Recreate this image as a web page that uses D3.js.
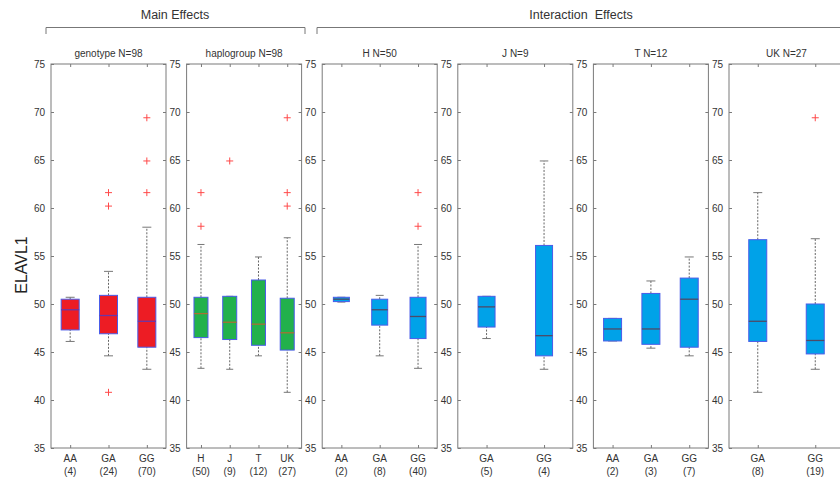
<!DOCTYPE html>
<html>
<head>
<meta charset="UTF-8">
<script src="https://d3js.org/d3.v7.min.js"></script>
<style>
  body { margin: 0; background: #fff; }
  text { font-family: "Liberation Sans", Arial, sans-serif; }
</style>
</head>
<body>
<svg id="canvas"></svg>
<script>
// ---- data ----
const panelTitles = ["genotype N=98", "haplogroup N=98", "H N=50", "J N=9", "T N=12", "UK N=27"];
const panelCategories = [["AA","GA","GG"], ["H","J","T","UK"], ["AA","GA","GG"], ["GA","GG"], ["AA","GA","GG"], ["GA","GG"]];
const panelCounts = [[4,24,70], [50,9,12,27], [2,8,40], [5,4], [2,3,7], [8,19]];
const whiskerLow  = [[46.1,44.6,43.2], [43.3,43.2,44.6,40.8], [50.2,44.6,43.3], [46.4,43.2], [46.15,45.4,44.6], [40.8,43.2]];
const quartile1   = [[47.3,46.9,45.5], [46.5,46.3,45.7,45.2], [50.25,47.8,46.4], [47.6,44.6], [46.15,45.8,45.5], [46.1,44.8]];
const medians     = [[49.4,48.8,48.2], [49.0,48.1,47.9,47.0], [50.5,49.4,48.7], [49.7,46.7], [47.4,47.4,50.5], [48.2,46.2]];
const quartile3   = [[50.5,50.9,50.7], [50.7,50.8,52.5,50.6], [50.7,50.5,50.7], [50.8,56.1], [48.5,51.1,52.7], [56.7,50.0]];
const whiskerHigh = [[50.7,53.4,58.0], [56.2,50.8,54.9,56.9], [50.7,50.9,56.2], [50.8,64.9], [48.5,52.4,54.9], [61.6,56.8]];
const outliers    = [[[], [61.6,60.2,40.8], [69.4,64.9,61.6]],
                     [[61.6,58.1], [64.9], [], [69.4,61.6,60.2]],
                     [[], [], [61.6,58.1]],
                     [[], []],
                     [[], [], []],
                     [[], [69.4]]];
const yTicks = [35, 40, 45, 50, 55, 60, 65, 70, 75];

// ---- layout ----
const width = 840, height = 479;
const plotTop = 64, plotBottom = 448;
const panelLeft0 = 51, panelStep = 135.6, panelWidth = 115;
const boxPx = [18, 14, 16, 17, 18, 18];
const fills = ["#ed1c24", "#22b14c", "#00a2e8", "#00a2e8", "#00a2e8", "#00a2e8"];
const medColors = ["#6a36a8", "#a87034", "#4e4a66", "#4e4a66", "#4e4a66", "#4e4a66"];
const edge = "#4a5ce8";
const frameColor = "#7a7a7a";

const svg = d3.select("#canvas").attr("width", width).attr("height", height);

const y = d3.scaleLinear().domain([35, 75]).range([plotBottom, plotTop]);

panelTitles.forEach((title, p) => {
  const left = panelLeft0 + p * panelStep;
  const cats = panelCategories[p];
  const x = d3.scalePoint().domain(cats).range([0, panelWidth]).padding(0.5);
  const g = svg.append("g").attr("transform", "translate(" + left + ",0)");

  // frame
  g.append("rect").attr("x", 0).attr("y", plotTop).attr("width", panelWidth).attr("height", plotBottom - plotTop)
    .attr("fill", "none").attr("stroke", frameColor).attr("stroke-width", 1);

  // y axis left (inward ticks)
  const ya = g.append("g")
    .call(d3.axisLeft(y).tickValues(yTicks).tickSizeInner(-3).tickSizeOuter(0).tickPadding(6));
  ya.select(".domain").remove();
  ya.selectAll("line").attr("stroke", frameColor);
  ya.selectAll("text").attr("font-size", 10).attr("fill", "#333").attr("font-family", "Liberation Sans, Arial, sans-serif");

  // y ticks right
  const yr = g.append("g").attr("transform", "translate(" + panelWidth + ",0)")
    .call(d3.axisRight(y).tickValues(yTicks).tickSizeInner(-3).tickSizeOuter(0).tickFormat(""));
  yr.select(".domain").remove();
  yr.selectAll("line").attr("stroke", frameColor);

  // x axis bottom
  const xa = g.append("g").attr("transform", "translate(0," + plotBottom + ")")
    .call(d3.axisBottom(x).tickSizeInner(-3).tickSizeOuter(0).tickFormat(""));
  xa.select(".domain").remove();
  xa.selectAll("line").attr("stroke", frameColor);
  const xt = g.append("g").selectAll("text").data(cats).enter().append("text")
    .attr("x", d => x(d)).attr("y", plotBottom + 14)
    .attr("text-anchor", "middle").attr("font-size", 10).attr("fill", "#333");
  xt.append("tspan").attr("x", d => x(d)).attr("dy", 0).text(d => d);
  xt.append("tspan").attr("x", d => x(d)).attr("dy", 13).text((d, i) => "(" + panelCounts[p][i] + ")");

  // x ticks top
  const xtop = g.append("g").attr("transform", "translate(0," + plotTop + ")")
    .call(d3.axisTop(x).tickSizeInner(-3).tickSizeOuter(0).tickFormat(""));
  xtop.select(".domain").remove();
  xtop.selectAll("line").attr("stroke", frameColor);

  // title
  g.append("text").attr("x", panelWidth / 2).attr("y", 57).attr("text-anchor", "middle")
    .attr("font-size", 10).attr("fill", "#333").text(title);

  const bw = boxPx[p];
  cats.forEach((c, i) => {
    const cx = x(c);
    // whiskers
    [[quartile3[p][i], whiskerHigh[p][i]], [whiskerLow[p][i], quartile1[p][i]]].forEach(([a, b]) => {
      g.append("line").attr("x1", cx).attr("x2", cx).attr("y1", y(a)).attr("y2", y(b))
        .attr("stroke", "#666").attr("stroke-width", 1).attr("stroke-dasharray", "2,1.5");
    });
    [whiskerHigh[p][i], whiskerLow[p][i]].forEach(v => {
      g.append("line").attr("x1", cx - bw / 4).attr("x2", cx + bw / 4).attr("y1", y(v)).attr("y2", y(v))
        .attr("stroke", "#777").attr("stroke-width", 1);
    });
    // box
    g.append("rect").attr("x", cx - bw / 2).attr("width", bw)
      .attr("y", y(quartile3[p][i])).attr("height", Math.max(1.5, y(quartile1[p][i]) - y(quartile3[p][i])))
      .attr("fill", fills[p]).attr("stroke", edge).attr("stroke-width", 1);
    // median
    g.append("line").attr("x1", cx - bw / 2).attr("x2", cx + bw / 2)
      .attr("y1", y(medians[p][i])).attr("y2", y(medians[p][i]))
      .attr("stroke", medColors[p]).attr("stroke-width", 1.3);
    // outliers
    outliers[p][i].forEach(v => {
      g.append("path").attr("d", "M" + (cx - 3.5) + "," + y(v) + "h7M" + cx + "," + (y(v) - 3.5) + "v7")
        .attr("stroke", "#ff4a4a").attr("stroke-width", 1);
    });
  });
});

// y label
svg.append("text").attr("transform", "translate(27,265) rotate(-90)").attr("text-anchor", "middle")
  .attr("font-size", 16).attr("fill", "#222").text("ELAVL1");

// brackets
function bracket(x1, x2, label, lx) {
  svg.append("path").attr("d", "M" + x1 + ",34V27.5H" + x2 + "V34")
    .attr("fill", "none").attr("stroke", "#777").attr("stroke-width", 1);
  svg.append("text").attr("x", lx).attr("y", 19).attr("text-anchor", "middle")
    .attr("font-size", 12.5).attr("fill", "#333").style("white-space", "pre").text(label);
}
bracket(46, 305, "Main Effects", 175);
bracket(317, 860, "Interaction  Effects", 581);
</script>
</body>
</html>
